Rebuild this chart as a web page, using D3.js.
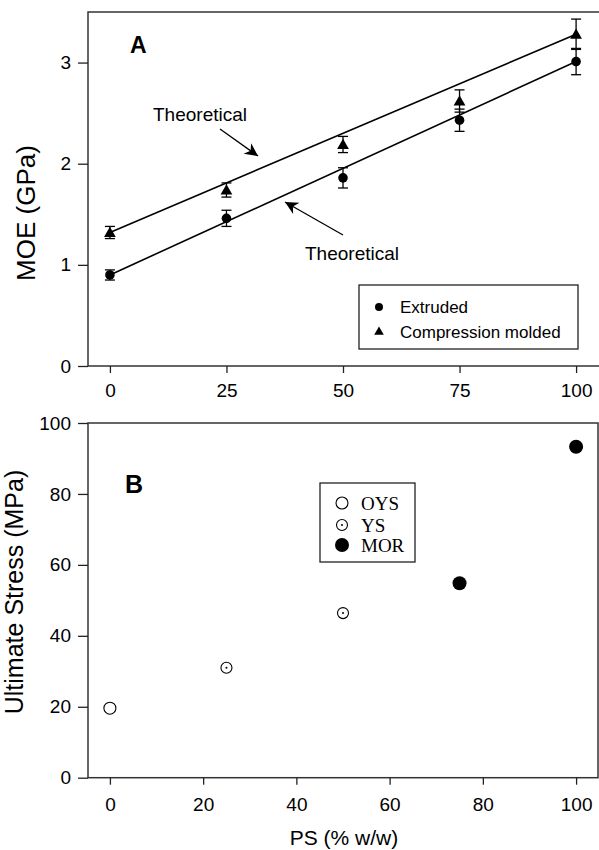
<!DOCTYPE html>
<html>
<head>
<meta charset="utf-8">
<script src="https://cdn.jsdelivr.net/npm/d3@7"></script>
<style>
  body { margin: 0; background: #fff; }
  svg { display: block; font-family: "Liberation Sans", Arial, sans-serif; }
</style>
</head>
<body>
<div id="chart"></div>
<script>
const width = 599, height = 850;

// panel A data
const psLevels = [0, 25, 50, 75, 100];
const extrudedMOE = [0.90, 1.46, 1.86, 2.43, 3.01];
const extrudedErr = [0.05, 0.08, 0.10, 0.11, 0.13];
const compressionMOE = [1.32, 1.74, 2.19, 2.62, 3.28];
const compressionErr = [0.06, 0.07, 0.08, 0.11, 0.15];
const theoryPS = [0, 100];
const theoryExtruded = [0.90, 3.01];
const theoryCompression = [1.32, 3.28];
const ticksA = [0, 25, 50, 75, 100];
const yTicksA = [0, 1, 2, 3];

// panel B data
const stressPS = [0, 25, 50, 75, 100];
const stressValues = [19.6, 31.0, 46.4, 54.8, 93.3];
const stressTypes = ["OYS", "YS", "YS", "MOR", "MOR"];
const legendB = ["OYS", "YS", "MOR"];
const ticksB = [0, 20, 40, 60, 80, 100];
const yTicksB = [0, 20, 40, 60, 80, 100];

const svg = d3.select("#chart")
	.append("svg")
	.attr("width", width)
	.attr("height", height);

svg.append("defs").append("marker")
	.attr("id", "arrow")
	.attr("viewBox", "0 0 10 10")
	.attr("refX", 10)
	.attr("refY", 5)
	.attr("markerUnits", "userSpaceOnUse")
	.attr("markerWidth", 16)
	.attr("markerHeight", 13)
	.attr("orient", "auto")
	.append("path")
	.attr("d", "M0,0 L10,5 L0,10 L3,5 Z")
	.attr("fill", "#000");

// ---------- panel A ----------
const xA = d3.scaleLinear().domain([-4.7, 104.7]).range([88, 598]);
const yA = d3.scaleLinear().domain([0, 3.5]).range([366, 12]);

const gA = svg.append("g");

gA.append("path")
	.attr("d", `M600,${yA(3.5)} H${xA(-4.7)} V${yA(0)} H600`)
	.attr("fill", "none")
	.attr("stroke", "#333")
	.attr("stroke-width", 1.5);

const axisAy = gA.append("g")
	.attr("transform", `translate(${xA(-4.7)},0)`)
	.call(d3.axisLeft(yA).tickValues(yTicksA).tickSize(10).tickPadding(7).tickFormat(d3.format("d")));
const axisAx = gA.append("g")
	.attr("transform", `translate(0,${yA(0)})`)
	.call(d3.axisBottom(xA).tickValues(ticksA).tickSize(7).tickPadding(11).tickFormat(d3.format("d")));

[axisAy, axisAx].forEach(ax => {
	ax.select(".domain").remove();
	ax.selectAll("line").attr("stroke", "#222").attr("stroke-width", 1.3);
	ax.selectAll("text").attr("font-size", 19).attr("fill", "#000").attr("font-family", "Liberation Sans, Arial, sans-serif");
});

// theoretical lines
const lineA = d3.line().x(d => xA(d[0])).y(d => yA(d[1]));
gA.append("path")
	.attr("d", lineA(d3.zip(theoryPS, theoryExtruded)))
	.attr("fill", "none").attr("stroke", "#000").attr("stroke-width", 1.6);
gA.append("path")
	.attr("d", lineA(d3.zip(theoryPS, theoryCompression)))
	.attr("fill", "none").attr("stroke", "#000").attr("stroke-width", 1.6);

// error bars
function errorBars(values, errs) {
	const g = gA.append("g").attr("stroke", "#000").attr("stroke-width", 1.3);
	psLevels.forEach((p, i) => {
		const x = xA(p), y0 = yA(values[i] - errs[i]), y1 = yA(values[i] + errs[i]);
		g.append("line").attr("x1", x).attr("x2", x).attr("y1", y0).attr("y2", y1);
		g.append("line").attr("x1", x - 5).attr("x2", x + 5).attr("y1", y0).attr("y2", y0);
		g.append("line").attr("x1", x - 5).attr("x2", x + 5).attr("y1", y1).attr("y2", y1);
	});
}
errorBars(extrudedMOE, extrudedErr);
errorBars(compressionMOE, compressionErr);

gA.selectAll(".extruded")
	.data(psLevels)
	.enter()
	.append("circle")
	.attr("cx", d => xA(d))
	.attr("cy", (d, i) => yA(extrudedMOE[i]))
	.attr("r", 4.8)
	.attr("fill", "#000");

const tri = d3.symbol().type(d3.symbolTriangle).size(60);
gA.selectAll(".compression")
	.data(psLevels)
	.enter()
	.append("path")
	.attr("d", tri)
	.attr("transform", (d, i) => `translate(${xA(d)},${yA(compressionMOE[i]) + 1})`)
	.attr("fill", "#000");

// annotations
gA.append("text").attr("x", 153).attr("y", 121).attr("font-size", 19).text("Theoretical");
gA.append("line").attr("x1", 220).attr("y1", 129).attr("x2", 258).attr("y2", 156)
	.attr("stroke", "#000").attr("stroke-width", 1.3).attr("marker-end", "url(#arrow)");
gA.append("text").attr("x", 305).attr("y", 260).attr("font-size", 19).text("Theoretical");
gA.append("line").attr("x1", 343).attr("y1", 235).attr("x2", 285).attr("y2", 202)
	.attr("stroke", "#000").attr("stroke-width", 1.3).attr("marker-end", "url(#arrow)");

gA.append("text").attr("x", 130).attr("y", 53).attr("font-size", 23).attr("font-weight", "bold").text("A");

// legend A
const legA = gA.append("g");
legA.append("rect").attr("x", 359).attr("y", 285).attr("width", 219).attr("height", 64)
	.attr("fill", "#fff").attr("stroke", "#222").attr("stroke-width", 1.3);
legA.append("circle").attr("cx", 379).attr("cy", 307).attr("r", 4).attr("fill", "#000");
legA.append("path").attr("d", d3.symbol().type(d3.symbolTriangle).size(40))
	.attr("transform", "translate(379,332)").attr("fill", "#000");
legA.append("text").attr("x", 400).attr("y", 313).attr("font-size", 17).text("Extruded");
legA.append("text").attr("x", 400).attr("y", 338).attr("font-size", 17).text("Compression molded");

gA.append("text")
	.attr("transform", `translate(35,213) rotate(-90)`)
	.attr("text-anchor", "middle")
	.attr("font-size", 26)
	.text("MOE (GPa)");

// ---------- panel B ----------
const xB = d3.scaleLinear().domain([-4.7, 104.7]).range([88, 598]);
const yB = d3.scaleLinear().domain([0, 100]).range([777.7, 423]);

const gB = svg.append("g");

gB.append("rect")
	.attr("x", xB(-4.7)).attr("y", yB(100))
	.attr("width", xB(104.7) - xB(-4.7)).attr("height", yB(0) - yB(100))
	.attr("fill", "none").attr("stroke", "#333").attr("stroke-width", 1.5);

const axisBy = gB.append("g")
	.attr("transform", `translate(${xB(-4.7)},0)`)
	.call(d3.axisLeft(yB).tickValues(yTicksB).tickSize(10).tickPadding(7).tickFormat(d3.format("d")));
const axisBx = gB.append("g")
	.attr("transform", `translate(0,${yB(0)})`)
	.call(d3.axisBottom(xB).tickValues(ticksB).tickSize(7).tickPadding(13).tickFormat(d3.format("d")));

[axisBy, axisBx].forEach(ax => {
	ax.select(".domain").remove();
	ax.selectAll("line").attr("stroke", "#222").attr("stroke-width", 1.3);
	ax.selectAll("text").attr("font-size", 19).attr("fill", "#000").attr("font-family", "Liberation Sans, Arial, sans-serif");
});

function drawMarker(g, type, x, y) {
	if (type === "OYS") {
		g.append("circle").attr("cx", x).attr("cy", y).attr("r", 6)
			.attr("fill", "#fff").attr("stroke", "#000").attr("stroke-width", 1.1);
	} else if (type === "YS") {
		g.append("circle").attr("cx", x).attr("cy", y).attr("r", 5.5)
			.attr("fill", "#fff").attr("stroke", "#000").attr("stroke-width", 1.1);
		g.append("circle").attr("cx", x).attr("cy", y).attr("r", 1).attr("fill", "#000");
	} else {
		g.append("circle").attr("cx", x).attr("cy", y).attr("r", 7).attr("fill", "#000");
	}
}

stressPS.forEach((p, i) => drawMarker(gB, stressTypes[i], xB(p), yB(stressValues[i])));

gB.append("text").attr("x", 125).attr("y", 493).attr("font-size", 25).attr("font-weight", "bold").text("B");

// legend B
const legB = gB.append("g");
legB.append("rect").attr("x", 320).attr("y", 483).attr("width", 95).attr("height", 79)
	.attr("fill", "#fff").attr("stroke", "#222").attr("stroke-width", 1.3);
const legY = [503, 525, 545];
legendB.forEach((name, i) => {
	drawMarker(legB, name, 342, legY[i]);
	legB.append("text")
		.attr("x", 361).attr("y", legY[i] + 6.5)
		.attr("font-family", "Liberation Serif, Times New Roman, serif")
		.attr("font-size", 19)
		.text(name);
});

gB.append("text")
	.attr("transform", `translate(23,592) rotate(-90)`)
	.attr("text-anchor", "middle")
	.attr("font-size", 25)
	.text("Ultimate Stress (MPa)");

gB.append("text")
	.attr("x", 344).attr("y", 845)
	.attr("text-anchor", "middle")
	.attr("font-size", 21)
	.text("PS (% w/w)");
</script>
</body>
</html>
